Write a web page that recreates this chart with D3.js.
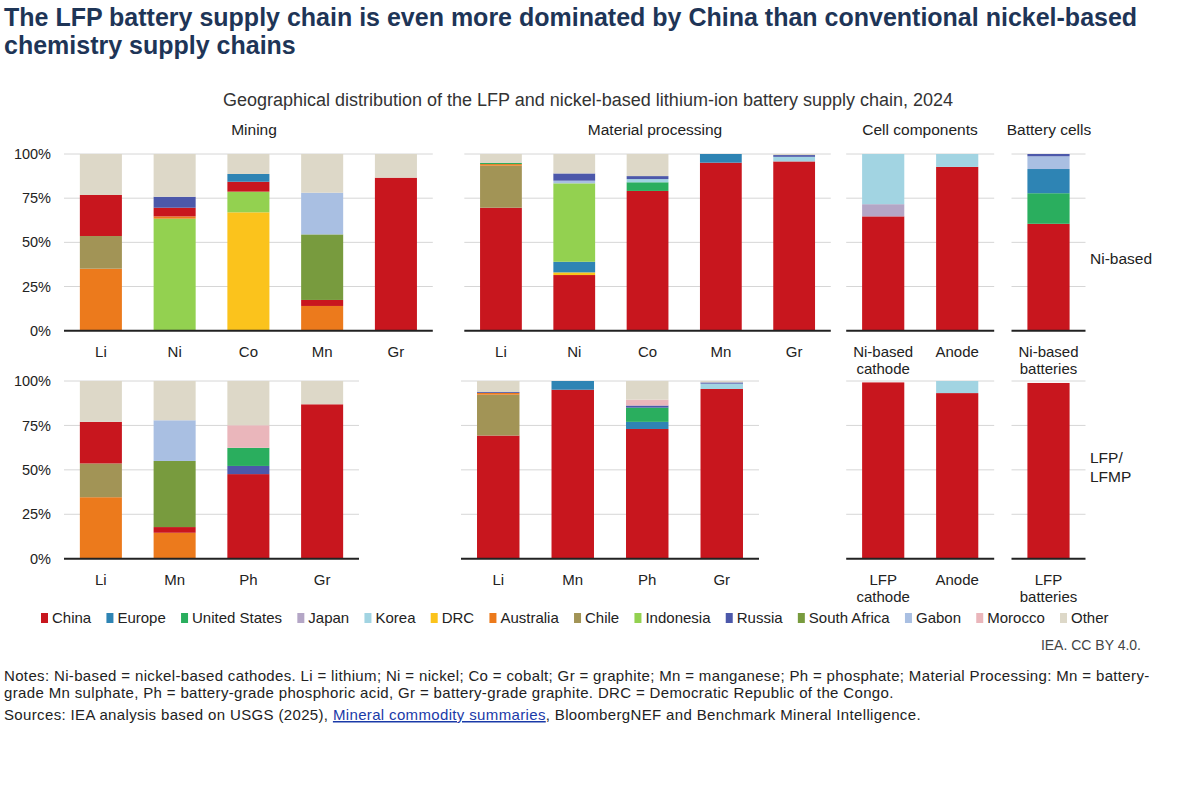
<!DOCTYPE html>
<html>
<head>
<meta charset="utf-8">
<script src="https://cdn.jsdelivr.net/npm/d3@7"></script>
<style>
  body { margin: 0; background: #fff; }
  svg { font-family: "Liberation Sans", Arial, sans-serif; display: block; }
</style>
</head>
<body>
<div id="chart"></div>
<script>
// ---- data -------------------------------------------------------------
var countries = ["China", "Europe", "United States", "Japan", "Korea", "DRC", "Australia",
                 "Chile", "Indonesia", "Russia", "South Africa", "Gabon", "Morocco", "Other"];
var countryColors = ["#c8161e", "#2e84b4", "#2aae5e", "#b4a6c6", "#a2d4e2", "#fbc31c", "#ec7a1c",
                     "#a29456", "#93d150", "#4c58aa", "#789b3e", "#a9bfe2", "#eab6bb", "#ddd8c8"];

// each bar is a list of [country, share %] from the bottom up
var miningNiCats = ["Li", "Ni", "Co", "Mn", "Gr"];
var miningNiBars = [
  [["Australia", 35.1], ["Chile", 18.5], ["China", 23.2], ["Other", 23.2]],
  [["Indonesia", 63.4], ["Australia", 1.3], ["China", 4.9], ["Russia", 6.2], ["Other", 24.2]],
  [["DRC", 67], ["Indonesia", 11.7], ["China", 5.6], ["Europe", 4.4], ["Other", 11.3]],
  [["Australia", 14], ["China", 3.4], ["South Africa", 37.1], ["Gabon", 23.6], ["Other", 21.9]],
  [["China", 86.6], ["Other", 13.4]]
];
var procNiCats = ["Li", "Ni", "Co", "Mn", "Gr"];
var procNiBars = [
  [["China", 69.6], ["Chile", 23.8], ["Australia", 0.9], ["United States", 0.6], ["Other", 5.1]],
  [["China", 31.5], ["DRC", 1.5], ["Europe", 6], ["Indonesia", 44.4], ["Gabon", 1.5], ["Russia", 4.1], ["Other", 11]],
  [["China", 79.1], ["United States", 4.9], ["Korea", 1.8], ["Russia", 1.7], ["Other", 12.5]],
  [["China", 95.1], ["Europe", 4.9]],
  [["China", 95.8], ["Korea", 2.6], ["Russia", 1], ["Other", 0.6]]
];
var cellNiCats = ["Ni-based\ncathode", "Anode"];
var cellNiBars = [
  [["China", 64.7], ["Japan", 6.9], ["Korea", 28.4]],
  [["China", 92.7], ["Korea", 7.3]]
];
var battNiCats = ["Ni-based\nbatteries"];
var battNiBars = [
  [["China", 60.5], ["United States", 17.3], ["Europe", 13.7], ["Gabon", 7.2], ["Russia", 1.3]]
];

var miningLfpCats = ["Li", "Mn", "Ph", "Gr"];
var miningLfpBars = [
  [["Australia", 34.6], ["Chile", 19], ["China", 23.4], ["Other", 23]],
  [["Australia", 14.6], ["China", 3.2], ["South Africa", 37.2], ["Gabon", 22.9], ["Other", 22.1]],
  [["China", 47.6], ["Russia", 4.6], ["United States", 10.2], ["Morocco", 12.7], ["Other", 24.9]],
  [["China", 86.9], ["Other", 13.1]]
];
var procLfpCats = ["Li", "Mn", "Ph", "Gr"];
var procLfpBars = [
  [["China", 69.3], ["Chile", 23], ["Australia", 1], ["Russia", 0.5], ["Other", 6.2]],
  [["China", 95.1], ["Europe", 4.9]],
  [["China", 73], ["Europe", 4], ["United States", 8], ["Russia", 1.2], ["Morocco", 3.3], ["Other", 10.5]],
  [["China", 95.5], ["Korea", 3], ["Russia", 0.7], ["Other", 0.8]]
];
var cellLfpCats = ["LFP\ncathode", "Anode"];
var cellLfpBars = [
  [["China", 99.2]],
  [["China", 93.2], ["Korea", 6.8]]
];
var battLfpCats = ["LFP\nbatteries"];
var battLfpBars = [
  [["China", 98.9]]
];

var yTicks = [0, 25, 50, 75, 100];
var panelTitles = ["Mining", "Material processing", "Cell components", "Battery cells"];
var rowLabels = [["Ni-based"], ["LFP/", "LFMP"]];

// ---- layout -----------------------------------------------------------
var W = 1200, H = 790;
var color = d3.scaleOrdinal().domain(countries).range(countryColors);

var svg = d3.select("#chart").append("svg")
    .attr("width", W).attr("height", H);

var rows = [
  {top: 154, bottom: 330.7, labelY: 357},
  {top: 381, bottom: 558.7, labelY: 585}
];

var panels = [
  {row: 0, x0: 64, x1: 432.8, cats: miningNiCats, bars: miningNiBars, yAxis: true},
  {row: 0, x0: 464.3, x1: 830.8, cats: procNiCats, bars: procNiBars},
  {row: 0, x0: 846.2, x1: 994.2, cats: cellNiCats, bars: cellNiBars},
  {row: 0, x0: 1011.5, x1: 1085.5, cats: battNiCats, bars: battNiBars},
  {row: 1, x0: 64, x1: 359, cats: miningLfpCats, bars: miningLfpBars, yAxis: true},
  {row: 1, x0: 461, x1: 759, cats: procLfpCats, bars: procLfpBars},
  {row: 1, x0: 846.2, x1: 994.2, cats: cellLfpCats, bars: cellLfpBars},
  {row: 1, x0: 1011.5, x1: 1085.5, cats: battLfpCats, bars: battLfpBars}
];

// title
var title = svg.append("g").attr("fill", "#1e3557")
    .style("font-size", "25px").style("font-weight", "bold");
title.append("text").attr("x", 4).attr("y", 26)
    .text("The LFP battery supply chain is even more dominated by China than conventional nickel-based");
title.append("text").attr("x", 4).attr("y", 54).text("chemistry supply chains");

svg.append("text").attr("x", 588).attr("y", 106).attr("text-anchor", "middle")
    .attr("fill", "#333").style("font-size", "18px")
    .text("Geographical distribution of the LFP and nickel-based lithium-ion battery supply chain, 2024");

panels.forEach(function(p, i) {
  var r = rows[p.row];
  var x = d3.scaleBand().domain(p.cats).range([p.x0, p.x1])
      .paddingInner(0.43).paddingOuter(0.215);
  var y = d3.scaleLinear().domain([0, 100]).range([r.bottom, r.top]);
  var g = svg.append("g");

  // grid
  g.selectAll(".grid").data(yTicks.slice(1)).enter().append("line")
      .attr("x1", p.x0).attr("x2", p.x1)
      .attr("y1", function(d) { return y(d); }).attr("y2", function(d) { return y(d); })
      .attr("stroke", "#d6d6d6").attr("stroke-width", 1);

  // stacked bars
  var segs = [];
  p.bars.forEach(function(bar, bi) {
    var acc = 0;
    bar.forEach(function(s) {
      segs.push({cat: p.cats[bi], country: s[0], y0: acc, y1: acc + s[1]});
      acc += s[1];
    });
  });
  g.selectAll(".seg").data(segs).enter().append("rect")
      .attr("x", function(d) { return x(d.cat); })
      .attr("width", x.bandwidth())
      .attr("y", function(d) { return y(d.y1); })
      .attr("height", function(d) { return y(d.y0) - y(d.y1); })
      .attr("fill", function(d) { return color(d.country); });

  // baseline
  g.append("line").attr("x1", p.x0).attr("x2", p.x1)
      .attr("y1", y(0)).attr("y2", y(0))
      .attr("stroke", "#222").attr("stroke-width", 2);

  // category labels
  var xAxis = g.append("g").attr("transform", "translate(0," + r.labelY + ")")
      .call(d3.axisBottom(x).tickSize(0).tickPadding(0));
  xAxis.select(".domain").remove();
  xAxis.selectAll("text").attr("fill", "#222").style("font-size", "15px")
      .attr("dy", null).attr("y", 0)
      .each(function(d) {
        var t = d3.select(this), lines = d.split("\n");
        t.text(null);
        lines.forEach(function(l, li) {
          t.append("tspan").attr("x", 0).attr("y", li * 17).text(l);
        });
      });

  if (p.yAxis) {
    var yAxis = g.append("g").attr("transform", "translate(51,0)")
        .call(d3.axisLeft(y).tickValues(yTicks).tickSize(0).tickPadding(0)
              .tickFormat(function(d) { return d + "%"; }));
    yAxis.select(".domain").remove();
    yAxis.selectAll("text").attr("fill", "#222").style("font-size", "14.5px");
  }

  if (p.row === 0) {
    var tx = [254, 655, 920, 1049][i];
    svg.append("text").attr("x", tx).attr("y", 135).attr("text-anchor", "middle")
        .attr("fill", "#222").style("font-size", "15.5px").text(panelTitles[i]);
  }
});

// row labels
rowLabels.forEach(function(lines, ri) {
  var yy = ri === 0 ? 264 : 463;
  lines.forEach(function(l, li) {
    svg.append("text").attr("x", 1090).attr("y", yy + li * 19)
        .attr("fill", "#222").style("font-size", "15.5px").text(l);
  });
});

// legend
var legend = svg.append("g").attr("transform", "translate(0,618)");
var items = legend.selectAll(".item").data(countries).enter().append("g");
items.append("rect").attr("x", 0).attr("y", -5).attr("width", 7).attr("height", 10)
    .attr("fill", function(d) { return color(d); });
items.append("text").attr("x", 11).attr("y", 5).attr("fill", "#222")
    .style("font-size", "15px").text(function(d) { return d; });
var widths = [];
items.each(function() { widths.push(11 + d3.select(this).select("text").node().getComputedTextLength()); });
var startX = 41, endX = 1060;
var gap = (endX - startX - d3.sum(widths.slice(0, -1))) / (countries.length - 1);
var cx = startX;
items.attr("transform", function(d, i) { var t = "translate(" + cx + ",0)"; cx += widths[i] + gap; return t; });

svg.append("text").attr("x", 1141).attr("y", 650).attr("text-anchor", "end")
    .attr("fill", "#444").style("font-size", "14px").text("IEA. CC BY 4.0.");

// notes
var notes = svg.append("g").attr("fill", "#222").style("font-size", "15px")
    .style("letter-spacing", "0.35px");
notes.append("text").attr("x", 4).attr("y", 681)
    .text("Notes: Ni-based = nickel-based cathodes. Li = lithium; Ni = nickel; Co = cobalt; Gr = graphite; Mn = manganese; Ph = phosphate; Material Processing: Mn = battery-");
notes.append("text").attr("x", 4).attr("y", 698)
    .text("grade Mn sulphate, Ph = battery-grade phosphoric acid, Gr = battery-grade graphite. DRC = Democratic Republic of the Congo.");
var src = notes.append("text").attr("x", 4).attr("y", 720);
src.append("tspan").text("Sources: IEA analysis based on USGS (2025), ");
src.append("tspan").attr("fill", "#1a3aa8").style("text-decoration", "underline")
    .text("Mineral commodity summaries");
src.append("tspan").text(", BloombergNEF and Benchmark Mineral Intelligence.");
</script>
</body>
</html>
